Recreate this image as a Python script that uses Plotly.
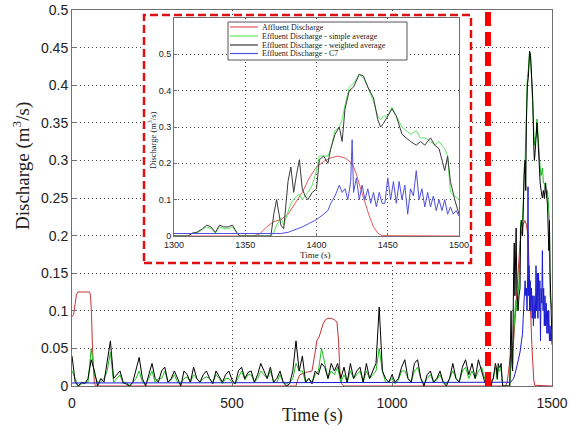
import plotly.graph_objects as go

# ---------------- data ----------------
ZOOM_START = 1300
ZOOM_END = 1500

# Affluent discharge (red)
t_aff = [0, 5, 10, 14, 18, 30, 45, 55, 58, 61, 64, 67, 70, 75, 700, 705, 712, 730, 750, 758, 765, 772, 778,
         785, 792, 800, 810, 820, 828, 833, 837, 842, 850, 1355, 1360, 1365, 1370, 1375, 1380, 1385, 1390,
         1395, 1400, 1405, 1410, 1415, 1420, 1425, 1428, 1431, 1434, 1437, 1440, 1443, 1446, 1500]
q_aff = [0.092, 0.095, 0.11, 0.122, 0.125, 0.125, 0.125, 0.125, 0.12, 0.095, 0.05, 0.015, 0.003, 0.0, 0.0,
         0.008, 0.015, 0.018, 0.02, 0.04, 0.06, 0.065, 0.075, 0.083, 0.088, 0.09, 0.09, 0.088, 0.085, 0.06,
         0.02, 0.003, 0.0, 0.0, 0.005, 0.025, 0.04, 0.045, 0.06, 0.09, 0.12, 0.16, 0.19, 0.205, 0.215,
         0.22, 0.215, 0.2, 0.17, 0.13, 0.09, 0.055, 0.025, 0.008, 0.001, 0.0]

# Effluent discharge - simple average (green) and weighted average (black)
t_eff = [0, 10, 20, 30, 40, 50, 60, 70, 80, 90, 100, 110, 120, 130, 140, 150, 160, 170, 180, 190,
         200, 210, 220, 230, 240, 250, 260, 270, 280, 290, 300, 310, 320, 330, 340, 350, 360, 370, 380, 390,
         400, 410, 420, 430, 440, 450, 460, 470, 480, 490, 500, 510, 520, 530, 540, 550, 560, 570, 580, 590,
         600, 610, 620, 630, 640, 650, 660, 670, 680, 690, 700, 710, 720, 730, 740, 750, 760, 770, 780, 790,
         800, 810, 820, 830, 840, 850, 860, 870, 880, 890, 900, 910, 920, 930, 940, 950, 960, 970, 980, 990,
         1000, 1010, 1020, 1030, 1040, 1050, 1060, 1070, 1080, 1090, 1100, 1110, 1120, 1130, 1140, 1150,
         1160, 1170, 1180, 1190, 1200, 1210, 1220, 1230, 1240, 1250, 1260, 1270, 1280, 1290, 1300,
         1305, 1310, 1313, 1316, 1320, 1323, 1326, 1329, 1332, 1335, 1338, 1341, 1344, 1346, 1368,
         1370, 1372, 1375, 1377, 1380, 1382, 1384, 1386, 1388, 1390, 1392, 1394, 1397, 1400, 1402, 1405,
         1408, 1410, 1413, 1416, 1418, 1420, 1423, 1426, 1430, 1433, 1436, 1440, 1443, 1445, 1447, 1450,
         1453, 1456, 1460, 1463, 1466, 1470, 1473, 1476, 1480, 1483, 1486, 1490, 1492, 1494, 1497, 1500]
q_simple = [0.02, 0.01, 0.0, 0.003, 0.005, 0.005, 0.05, 0.015, 0.005, 0.005, 0.01, 0.02, 0.045, 0.005,
            0.01, 0.015, 0.003, 0.005, 0.0, 0.005, 0.01, 0.02, 0.005, 0.003, 0.01, 0.02, 0.005, 0.01, 0.01,
            0.02, 0.005, 0.008, 0.015, 0.005, 0.003, 0.01, 0.012, 0.005, 0.015, 0.01, 0.005, 0.01, 0.012,
            0.01, 0.005, 0.015, 0.01, 0.003, 0.01, 0.01, 0.005, 0.003, 0.012, 0.02, 0.008, 0.015, 0.015,
            0.005, 0.01, 0.02, 0.015, 0.01, 0.02, 0.005, 0.005, 0.015, 0.005, 0.003, 0.005, 0.01, 0.03,
            0.02, 0.02, 0.005, 0.01, 0.005, 0.015, 0.02, 0.05, 0.03, 0.01, 0.02, 0.015, 0.025, 0.005, 0.015,
            0.005, 0.02, 0.01, 0.015, 0.02, 0.005, 0.02, 0.01, 0.015, 0.02, 0.05, 0.02, 0.005, 0.005, 0.01,
            0.003, 0.008, 0.02, 0.02, 0.01, 0.005, 0.02, 0.025, 0.01, 0.003, 0.01, 0.015, 0.005, 0.008,
            0.015, 0.005, 0.003, 0.01, 0.02, 0.01, 0.005, 0.02, 0.025, 0.01, 0.02, 0.01, 0.02, 0.025, 0.01,
            0.0,
            0.0, 0.0, 0.008, 0.008, 0.018, 0.025, 0.02, 0.008, 0.025, 0.02, 0.02, 0.025, 0.008, 0.0, 0.0,
            0.01, 0.03, 0.05, 0.03, 0.07, 0.09, 0.1, 0.11, 0.115, 0.1, 0.11, 0.12, 0.14, 0.18, 0.22, 0.22,
            0.22, 0.24, 0.29, 0.3, 0.32, 0.36, 0.41, 0.42, 0.445, 0.435, 0.41, 0.37, 0.33, 0.32, 0.33, 0.33,
            0.355, 0.33, 0.3, 0.29, 0.28, 0.29, 0.27, 0.27, 0.26, 0.25, 0.26, 0.24, 0.22, 0.12, 0.11, 0.1]
q_weighted = [0.04, 0.005, 0.0, 0.005, 0.003, 0.01, 0.035, 0.02, 0.0, 0.01, 0.005, 0.03, 0.06, 0.01,
              0.015, 0.02, 0.005, 0.003, 0.0, 0.005, 0.02, 0.038, 0.01, 0.0, 0.015, 0.03, 0.01, 0.005, 0.02,
              0.025, 0.005, 0.01, 0.02, 0.01, 0.0, 0.02, 0.015, 0.005, 0.025, 0.01, 0.005, 0.015, 0.02, 0.01,
              0.003, 0.02, 0.012, 0.005, 0.015, 0.02, 0.008, 0.003, 0.02, 0.025, 0.01, 0.018, 0.02, 0.005,
              0.015, 0.03, 0.02, 0.01, 0.025, 0.005, 0.01, 0.02, 0.005, 0.0, 0.003, 0.02, 0.06, 0.02, 0.04,
              0.005, 0.01, 0.003, 0.02, 0.015, 0.03, 0.025, 0.01, 0.03, 0.02, 0.03, 0.01, 0.025, 0.005, 0.03,
              0.01, 0.02, 0.025, 0.005, 0.03, 0.01, 0.02, 0.03, 0.105, 0.02, 0.01, 0.005, 0.015, 0.005, 0.01,
              0.025, 0.035, 0.01, 0.005, 0.03, 0.035, 0.01, 0.0, 0.015, 0.02, 0.005, 0.01, 0.02, 0.005, 0.0,
              0.01, 0.03, 0.01, 0.005, 0.025, 0.035, 0.015, 0.03, 0.01, 0.035, 0.02, 0.005, 0.0,
              0.0, 0.0, 0.008, 0.01, 0.02, 0.03, 0.025, 0.01, 0.03, 0.025, 0.025, 0.03, 0.01, 0.0, 0.0,
              0.06, 0.1, 0.03, 0.02, 0.15, 0.19, 0.12, 0.17, 0.21, 0.13, 0.11, 0.1, 0.12, 0.13, 0.21, 0.22,
              0.2, 0.24, 0.28, 0.3, 0.26, 0.35, 0.4, 0.41, 0.445, 0.44, 0.41, 0.38, 0.32, 0.3, 0.31, 0.33,
              0.35, 0.33, 0.28, 0.27, 0.26, 0.25, 0.26, 0.25, 0.27, 0.25, 0.24, 0.18, 0.22, 0.15, 0.1, 0.06]

# Effluent discharge - C7 (blue)
t_c7 = [0, 1370, 1375, 1380, 1385, 1390, 1395, 1400, 1405, 1408, 1410, 1413, 1416, 1418, 1420, 1422,
        1424, 1425, 1426, 1428, 1430, 1432, 1434, 1436, 1438, 1440, 1442, 1444, 1446, 1448, 1450, 1452,
        1454, 1456, 1458, 1460, 1462, 1464, 1466, 1468, 1470, 1472, 1474, 1476, 1478, 1480, 1482, 1484,
        1486, 1488, 1490, 1492, 1494, 1496, 1498, 1500]
q_c7 = [0.004, 0.005, 0.007, 0.01, 0.017, 0.025, 0.035, 0.045, 0.06, 0.07, 0.09, 0.11, 0.14, 0.12, 0.13,
        0.1, 0.15, 0.265, 0.12, 0.16, 0.1, 0.14, 0.1, 0.13, 0.09, 0.12, 0.08, 0.12, 0.09, 0.09, 0.16, 0.1,
        0.15, 0.09, 0.15, 0.1, 0.14, 0.06, 0.13, 0.11, 0.18, 0.1, 0.13, 0.08, 0.12, 0.08, 0.11, 0.07, 0.1,
        0.07, 0.1, 0.06, 0.08, 0.06, 0.07, 0.055]

names = ["Affluent Discharge", "Effluent Discharge - simple average",
         "Effluent Discharge - weighted average", "Effluent Discharge - C7"]

main_y_ticks = [0, 0.05, 0.1, 0.15, 0.2, 0.25, 0.3, 0.35, 0.4, 0.45, 0.5]
main_y_text = ["0", "0.05", "0.1", "0.15", "0.2", "0.25", "0.3", "0.35", "0.4", "0.45", "0.5"]
main_x_ticks = [0, 500, 1000, 1500]
inset_x_ticks = [1300, 1350, 1400, 1450, 1500]
inset_y_ticks = [0, 0.1, 0.2, 0.3, 0.4, 0.5]
inset_y_text = ["0", "0.1", "0.2", "0.3", "0.4", "0.5"]

# ---------------- styling ----------------
W, H = 570, 430
PL, PR, PT, PB = 72, 552, 10, 386          # plot area in window pixels
ML, MT, MR, MB = PL, PT, W - PR, H - PB
PW, PH = PR - PL, PB - PT


def px(xs):
    return (xs - PL) / PW


def py(ys):
    return (PB - ys) / PH


main_cols = ["#c83232", "#1fbf1f", "#000000", "#1a1ad0"]
inset_cols = ["#e85a5a", "#5ee85e", "#3a3a3a", "#5050e0"]
series = [(t_aff, q_aff), (t_eff, q_simple), (t_eff, q_weighted), (t_c7, q_c7)]

fig = go.Figure()
for (t, q), c, n in zip(series, main_cols, names):
    fig.add_trace(go.Scatter(x=t, y=q, mode="lines", line=dict(color=c, width=1),
                             name=n, showlegend=False, xaxis="x", yaxis="y"))
# white cover subplot (behind the inset, inside the red dashed box)
fig.add_trace(go.Scatter(x=[], y=[], mode="lines", showlegend=False, xaxis="x2", yaxis="y2"))
for (t, q), c, n in zip(series, inset_cols, names):
    fig.add_trace(go.Scatter(x=t, y=q, mode="lines", line=dict(color=c, width=1),
                             name=n, showlegend=False, xaxis="x3", yaxis="y3"))

tickfont_main = dict(family="Liberation Sans, Arial, sans-serif", size=14, color="#222")
tickfont_in = dict(family="Liberation Sans, Arial, sans-serif", size=9, color="#222")
axis_common = dict(showline=True, mirror=True, linecolor="#707070", linewidth=1, automargin=False,
                   ticks="inside", tickcolor="#707070", zeroline=False, ticklabeloverflow="allow",
                   showgrid=True, gridcolor="#444", gridwidth=1, griddash="1px,3px")

box = dict(x0=px(144), x1=px(471), y0=py(263), y1=py(15))
inset_dom_x = [px(174), px(459)]
inset_dom_y = [py(236), py(18)]

fig.update_layout(
    width=W, height=H,
    margin=dict(l=ML, r=MR, t=MT, b=MB, pad=0),
    paper_bgcolor="white", plot_bgcolor="white",
    showlegend=False,
    xaxis=dict(domain=[0, 1], anchor="y", range=[0, ZOOM_END], tickvals=main_x_ticks,
               tickfont=tickfont_main, ticklen=5, ticklabelstandoff=4, **axis_common),
    yaxis=dict(domain=[0, 1], anchor="x", range=[0, 0.5], tickvals=main_y_ticks, ticktext=main_y_text,
               tickfont=tickfont_main, ticklen=5, **axis_common),
    xaxis2=dict(domain=[box["x0"], box["x1"]], anchor="y2", visible=False, range=[0, 1], automargin=False),
    yaxis2=dict(domain=[box["y0"], box["y1"]], anchor="x2", visible=False, range=[0, 1], automargin=False),
    xaxis3=dict(domain=inset_dom_x, anchor="y3", range=[ZOOM_START, ZOOM_END], tickvals=inset_x_ticks,
                tickfont=tickfont_in, ticklen=3, ticklabelstandoff=0, **axis_common),
    yaxis3=dict(domain=inset_dom_y, anchor="x3", range=[0, 0.6], tickvals=inset_y_ticks,
                ticktext=inset_y_text, tickfont=tickfont_in, ticklen=3, **axis_common),
)

shapes = [
    dict(type="line", xref="x", yref="paper", x0=ZOOM_START, x1=ZOOM_START, y0=0, y1=1,
         line=dict(color="#ff0000", width=6, dash="14px,6px"), layer="above"),
    dict(type="rect", xref="paper", yref="paper", line=dict(color="#e01010", width=2.5, dash="8px,4px"),
         fillcolor="rgba(0,0,0,0)", layer="above", **box),
    dict(type="rect", xref="paper", yref="paper", x0=px(228), x1=px(407), y0=py(60), y1=py(22),
         line=dict(color="#555", width=1), fillcolor="white", layer="above"),
]
leg_rows = [27, 36, 45, 53.5]
annotations = []
serif = "Liberation Serif, Times New Roman, serif"
for yr, c, n in zip(leg_rows, inset_cols, names):
    shapes.append(dict(type="line", xref="paper", yref="paper", x0=px(230), x1=px(258), y0=py(yr),
                       y1=py(yr), line=dict(color=c, width=1.2), layer="above"))
    annotations.append(dict(xref="paper", yref="paper", x=px(261), y=py(yr), text=n, showarrow=False,
                            xanchor="left", yanchor="middle", borderpad=0,
                            font=dict(family=serif, size=8, color="#222")))

annotations += [
    dict(xref="paper", yref="paper", x=px(312), y=py(415), text="Time (s)", showarrow=False,
         xanchor="center", yanchor="middle", font=dict(family=serif, size=18, color="#222")),
    dict(xref="paper", yref="paper", x=px(21), y=py(166), text="Discharge (m<sup>3</sup>/s)",
         showarrow=False, textangle=-90, xanchor="center", yanchor="middle",
         font=dict(family=serif, size=19, color="#222")),
    dict(xref="paper", yref="paper", x=px(315), y=py(255), text="Time (s)", showarrow=False,
         xanchor="center", yanchor="middle", font=dict(family=serif, size=9, color="#222")),
    dict(xref="paper", yref="paper", x=px(152), y=py(140), text="Discharge (m<sup>3</sup>/s)",
         showarrow=False, textangle=-90, xanchor="center", yanchor="middle",
         font=dict(family=serif, size=8.5, color="#222")),
]
fig.update_layout(shapes=shapes, annotations=annotations)

# remove the default 8px page margin so the 570x430 figure fills the window exactly
fig.write_html("out.html", config={"displayModeBar": False},
               post_script="document.body.style.margin='0';document.body.style.overflow='hidden';")
